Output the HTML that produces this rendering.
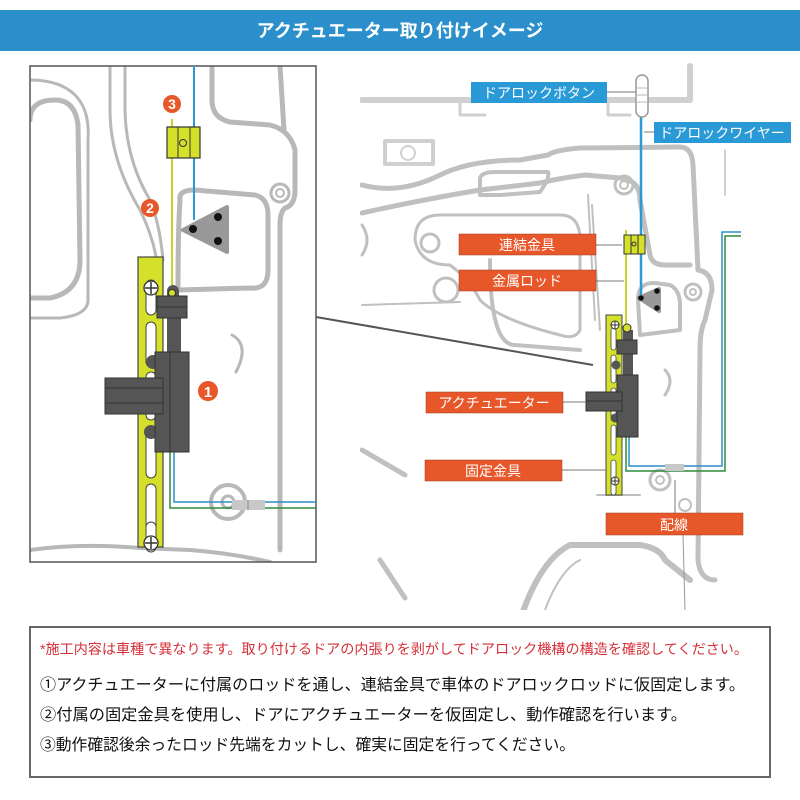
<!DOCTYPE html>
<html><head><meta charset="utf-8"><style>
html,body{margin:0;padding:0;background:#fff;}
svg{display:block;}
text{font-family:"Liberation Sans","Noto Sans CJK JP",sans-serif;}
</style></head><body>
<svg width="800" height="800" viewBox="0 0 800 800" xmlns="http://www.w3.org/2000/svg">
<rect width="800" height="800" fill="#fff"/>
<!-- header -->
<rect x="0" y="10" width="800" height="41" fill="#2a8fcb"/>
<text x="400" y="37" text-anchor="middle" font-size="18" font-weight="bold" fill="#fff">アクチュエーター取り付けイメージ</text>

<!-- LEFT PANEL -->
<defs><clipPath id="lc"><rect x="30" y="66" width="286" height="496"/></clipPath>
<clipPath id="rc"><rect x="360" y="60" width="440" height="550"/></clipPath></defs>
<g clip-path="url(#lc)" fill="none" stroke="#b8b8b8" stroke-width="5" stroke-linecap="round" stroke-linejoin="round">
  <path d="M30 120 Q30 100 55 100 Q75 100 78 125 L80 260 Q80 292 50 298 L30 298" />
  <path d="M30 80 Q60 80 75 95 Q90 110 88 140 L88 300 Q88 315 60 318 L30 318" stroke-width="3"/>
  <path d="M110 66 L110 110 Q110 160 140 210 Q155 240 158 270" stroke-width="3"/>
  <path d="M125 66 L125 110 Q126 160 150 200 Q160 225 163 260" stroke-width="3"/>
  <path d="M212 66 L212 100 Q212 118 230 122 L270 125 Q290 130 295 150 L295 190 Q295 205 285 208 Q280 212 280 225 L280 550"/>
  <path d="M280 66 L284 130"/>
  <path d="M180 200 Q178 190 195 190 L255 195 Q268 198 268 215 L268 270 Q268 290 250 288 L178 290 Q178 230 180 200Z" />
  <circle cx="280" cy="193" r="9" stroke-width="3"/><circle cx="280" cy="193" r="4" stroke-width="2"/>
  <circle cx="228" cy="502" r="17" stroke-width="4"/><circle cx="228" cy="502" r="6" stroke-width="3"/>
  <path d="M232 335 Q250 345 236 372" stroke-width="3"/>
  <path d="M30 550 Q80 543 140 548 L190 550 Q230 553 270 562" stroke-width="4"/>
</g>
<rect x="30" y="66" width="286" height="496" fill="none" stroke="#555" stroke-width="1.5"/>

<!-- left components -->
<line x1="194" y1="66" x2="194" y2="220" stroke="#2a9ad6" stroke-width="2"/>
<line x1="172" y1="119" x2="172" y2="285" stroke="#c8d42a" stroke-width="2"/>
<polygon points="183,230 227,207 227,252" fill="#999" stroke="#999" stroke-width="4" stroke-linejoin="round"/>
<circle cx="193" cy="229" r="4" fill="#111"/><circle cx="218" cy="217" r="4" fill="#111"/><circle cx="218" cy="241" r="4" fill="#111"/>
<rect x="167" y="127" width="33" height="31" fill="#d4e02a" stroke="#333" stroke-width="1.2"/>
<line x1="178" y1="127" x2="178" y2="158" stroke="#333"/><line x1="190" y1="127" x2="190" y2="158" stroke="#333"/>
<circle cx="183" cy="143" r="3.5" fill="#d4e02a" stroke="#333"/>
<!-- bracket -->
<rect x="138" y="257" width="25" height="290" fill="#d4e02a" stroke="#444" stroke-width="1.2"/>
<g fill="#fff" stroke="#444" stroke-width="1">
<rect x="146" y="280" width="10" height="35" rx="5"/><rect x="146" y="322" width="10" height="45" rx="5"/>
<rect x="146" y="372" width="10" height="48" rx="5"/><rect x="146" y="428" width="10" height="50" rx="5"/>
<rect x="146" y="484" width="10" height="48" rx="5"/><rect x="146" y="522" width="10" height="30" rx="5"/>
</g>
<g stroke="#333" stroke-width="1.3" fill="#fff"><circle cx="151" cy="288" r="7"/><circle cx="151" cy="543" r="7"/></g>
<g stroke="#333" stroke-width="1.5"><line x1="145" y1="288" x2="157" y2="288"/><line x1="151" y1="282" x2="151" y2="294"/>
<line x1="145" y1="543" x2="157" y2="543"/><line x1="151" y1="537" x2="151" y2="549"/></g>
<circle cx="153" cy="362" r="7" fill="#555"/><circle cx="151" cy="432" r="7" fill="#555"/>
<!-- wires -->
<path d="M174 452 L174 502 L316 502" fill="none" stroke="#2a8fcb" stroke-width="1.5"/>
<path d="M170 452 L170 508 L316 508" fill="none" stroke="#2e8b3c" stroke-width="1.5"/>
<rect x="232" y="500" width="33" height="10" fill="#c8c8c8"/><line x1="248" y1="500" x2="248" y2="510" stroke="#888"/>
<!-- actuator -->
<rect x="167" y="285" width="12" height="30" rx="6" fill="#555"/>
<circle cx="172" cy="293" r="3.5" fill="#d4e02a" stroke="#333"/>
<rect x="167" y="310" width="14" height="45" fill="#555"/>
<rect x="157" y="296" width="30" height="22" fill="#555" stroke="#333"/>
<line x1="157" y1="307" x2="187" y2="307" stroke="#333"/>
<rect x="155" y="352" width="34" height="100" fill="#555" stroke="#333"/>
<line x1="170" y1="352" x2="170" y2="452" stroke="#333"/>
<rect x="105" y="378" width="58" height="36" fill="#555" stroke="#333"/>
<line x1="105" y1="388" x2="163" y2="388" stroke="#333"/><line x1="105" y1="403" x2="163" y2="403" stroke="#333"/>
<!-- numbers -->
<g fill="#e8572a"><circle cx="172" cy="104" r="9"/><circle cx="150" cy="208" r="9"/><circle cx="208" cy="391" r="10"/></g>
<g fill="#fff" font-weight="bold" text-anchor="middle"><text x="172" y="109" font-size="14">3</text><text x="150" y="213" font-size="14">2</text><text x="208" y="397" font-size="15">1</text></g>

<!-- connecting line -->
<line x1="316" y1="317" x2="593" y2="365" stroke="#555" stroke-width="2"/>

<!-- RIGHT PANEL background -->
<g clip-path="url(#rc)" fill="none" stroke="#c0c0c0" stroke-width="5" stroke-linecap="round" stroke-linejoin="round">
  <path d="M362 100 L690 100 L690 66" stroke="#d0d0d0" stroke-width="6"/>
  <path d="M460 102 L460 115 L485 115 M608 102 L608 115 L630 115" stroke="#d0d0d0" stroke-width="3"/>
  <rect x="385" y="141" width="48" height="23" stroke="#d0d0d0" stroke-width="4"/>
  <circle cx="408" cy="153" r="7" stroke="#d0d0d0" stroke-width="2"/>
  <path d="M362 185 Q400 195 440 175 Q470 160 520 160 L548 155 Q555 150 580 148 L680 147 Q692 147 693 165 L698 270 Q712 272 712 290 L705 320 Q700 330 700 350 L698 560 Q700 580 715 580"/>
  <path d="M362 213 Q420 200 480 190 L540 183 Q560 178 585 175 L620 178 Q640 180 640 200 L650 255 Q652 265 665 265 L690 265"/>
  <path d="M480 195 L480 178 Q482 172 495 172 L548 172 Q550 178 540 192 L500 195 Z" stroke-width="4"/>
  <circle cx="624" cy="185" r="9" stroke-width="3"/><circle cx="624" cy="185" r="4" stroke-width="2"/>
  <circle cx="693" cy="292" r="8" stroke-width="3"/><circle cx="693" cy="292" r="3" stroke-width="2"/>
  <path d="M415 240 Q415 215 440 215 L560 215 Q580 215 580 240 L580 330 Q575 340 560 335 Q500 320 480 300 Q470 280 450 265 Q420 265 415 240Z" stroke-width="3"/>
  <circle cx="430" cy="243" r="9" stroke-width="3"/>
  <circle cx="446" cy="290" r="12" stroke-width="3"/>
  <path d="M490 260 Q490 345 515 345 L580 350" stroke-width="4"/>
  <path d="M588 195 L595 320 M592 205 L600 330" stroke-width="2"/>
  <path d="M638 300 Q638 282 655 283 L670 285 Q680 290 680 305 L680 330 L640 335 Z" stroke-width="4"/>
  <path d="M362 305 L460 302" stroke-width="2"/>
  <path d="M362 255 Q372 240 362 225" stroke-width="3"/>
  <path d="M665 370 Q675 380 665 395" stroke-width="3"/>
  <circle cx="660" cy="480" r="10" stroke-width="3"/><circle cx="660" cy="480" r="4" stroke-width="2"/>
  <path d="M362 450 L405 475" stroke-width="5"/>
  <path d="M520 620 Q540 560 570 545 L640 545 Q660 548 665 560 L690 580" stroke-width="6"/>
  <path d="M545 610 Q560 570 580 560" stroke-width="2"/>
  <path d="M380 560 L405 598" stroke-width="5"/>
  <path d="M597 495 L640 495" stroke-width="2"/>
  <circle cx="685" cy="505" r="6" stroke-width="2"/>
  <path d="M725 150 L725 195" stroke-width="1.5"/>
  <path d="M675 483 L675 520 M683 535 L685 610" stroke="#999" stroke-width="1"/>
</g>
<!-- right components -->
<line x1="641" y1="117" x2="641" y2="297" stroke="#2a9ad6" stroke-width="2.5"/>
<rect x="636" y="75" width="12" height="42" rx="6" fill="#fff" stroke="#999" stroke-width="1.5"/>
<g stroke="#bbb"><line x1="637" y1="88" x2="647" y2="88"/><line x1="637" y1="95" x2="647" y2="95"/><line x1="637" y1="102" x2="647" y2="102"/></g>
<line x1="626" y1="230" x2="626" y2="330" stroke="#c8d42a" stroke-width="2"/>
<polygon points="639,298 659,289 659,311" fill="#999" stroke="#999" stroke-width="4" stroke-linejoin="round"/>
<circle cx="641" cy="298" r="2.8" fill="#111"/><circle cx="657" cy="291" r="2.8" fill="#111"/><circle cx="657" cy="308" r="2.8" fill="#111"/>
<rect x="624" y="235" width="21" height="19" fill="#d4e02a" stroke="#333"/>
<line x1="631" y1="235" x2="631" y2="254" stroke="#333"/><line x1="638" y1="235" x2="638" y2="254" stroke="#333"/>
<circle cx="634" cy="244" r="2" fill="#d4e02a" stroke="#333"/>
<rect x="606" y="315" width="16" height="180" fill="#d4e02a" stroke="#444"/>
<g fill="#fff" stroke="#444" stroke-width="0.8">
<rect x="611" y="328" width="5" height="22" rx="2.5"/><rect x="611" y="355" width="5" height="28" rx="2.5"/>
<rect x="611" y="388" width="5" height="30" rx="2.5"/><rect x="611" y="425" width="5" height="30" rx="2.5"/><rect x="611" y="460" width="5" height="35" rx="2.5"/></g>
<circle cx="615" cy="325" r="4" fill="#fff" stroke="#333"/><circle cx="615" cy="481" r="4" fill="#fff" stroke="#333"/>
<g stroke="#333"><line x1="611" y1="325" x2="619" y2="325"/><line x1="615" y1="321" x2="615" y2="329"/><line x1="611" y1="481" x2="619" y2="481"/><line x1="615" y1="477" x2="615" y2="485"/></g>
<circle cx="616" cy="365" r="4.5" fill="#555"/><circle cx="615" cy="418" r="4.5" fill="#555"/>
<path d="M629 437 L629 466 L722 466 L722 232 L741 232" fill="none" stroke="#2a8fcb" stroke-width="1.5"/>
<path d="M626 437 L626 471 L725 471 L725 236 L741 236" fill="none" stroke="#2e8b3c" stroke-width="1.5"/>
<rect x="665" y="464" width="19" height="7" fill="#c8c8c8"/>
<rect x="623" y="330" width="10" height="48" fill="#555"/>
<circle cx="627" cy="328" r="4" fill="#d4e02a" stroke="#333"/>
<rect x="617" y="340" width="20" height="14" fill="#555" stroke="#333"/>
<rect x="617" y="375" width="21" height="62" fill="#555" stroke="#333"/>
<rect x="586" y="392" width="36" height="19" fill="#555" stroke="#333"/>
<line x1="586" y1="401" x2="622" y2="401" stroke="#333"/>
<!-- leader lines -->
<g stroke="#777" stroke-width="1">
<line x1="607" y1="92" x2="636" y2="92"/><line x1="644" y1="132" x2="654" y2="132"/>
<line x1="596" y1="245" x2="622" y2="245"/><line x1="596" y1="281" x2="624" y2="281"/>
<line x1="563" y1="402" x2="586" y2="402"/><line x1="562" y1="470" x2="606" y2="470"/>
<line x1="675" y1="480" x2="675" y2="513"/></g>
<!-- labels -->
<g fill="#2a9ad6"><rect x="471" y="82" width="136" height="21"/><rect x="654" y="122" width="137" height="21"/></g>
<g fill="#e8572a" stroke="#9a3a1a" stroke-width="0.5"><rect x="459" y="234" width="137" height="21"/><rect x="459" y="270" width="137" height="21"/>
<rect x="426" y="392" width="137" height="21"/><rect x="425" y="460" width="137" height="21"/><rect x="606" y="513" width="137" height="22"/></g>
<g fill="#fff" font-size="14" text-anchor="middle">
<text x="539" y="98">ドアロックボタン</text><text x="722" y="138">ドアロックワイヤー</text>
<text x="527" y="250">連結金具</text><text x="527" y="286">金属ロッド</text>
<text x="494" y="408">アクチュエーター</text><text x="493" y="476">固定金具</text><text x="674" y="530">配線</text></g>

<!-- bottom box -->
<rect x="30" y="627" width="740" height="150" fill="#fff" stroke="#666" stroke-width="2"/>
<text x="40" y="654" font-size="14" fill="#d6303a" textLength="708" lengthAdjust="spacingAndGlyphs">*施工内容は車種で異なります。取り付けるドアの内張りを剥がしてドアロック機構の構造を確認してください。</text>
<g font-size="16" fill="#111">
<text x="40" y="690" textLength="705" lengthAdjust="spacingAndGlyphs">①アクチュエーターに付属のロッドを通し、連結金具で車体のドアロックロッドに仮固定します。</text>
<text x="40" y="720" textLength="647" lengthAdjust="spacingAndGlyphs">②付属の固定金具を使用し、ドアにアクチュエーターを仮固定し、動作確認を行います。</text>
<text x="40" y="750" textLength="535" lengthAdjust="spacingAndGlyphs">③動作確認後余ったロッド先端をカットし、確実に固定を行ってください。</text></g>
</svg>
</body></html>
